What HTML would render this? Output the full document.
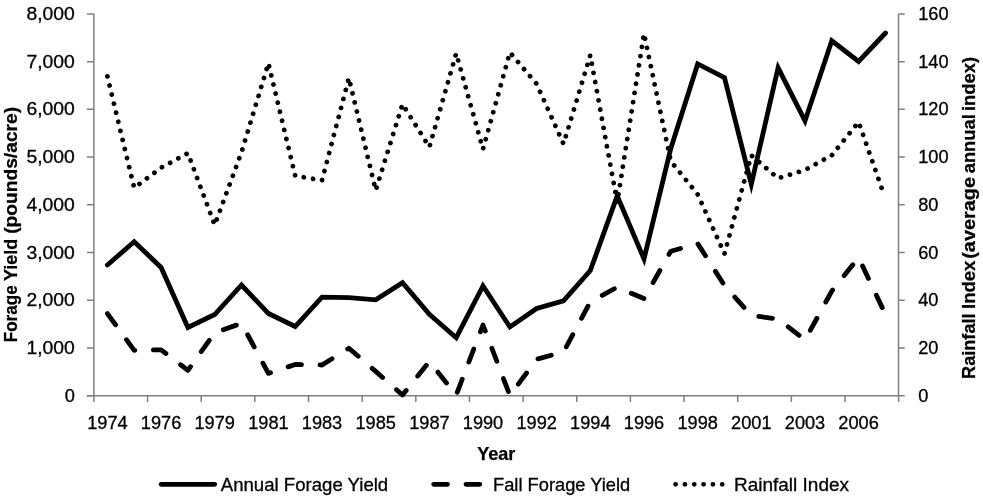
<!DOCTYPE html>
<html><head><meta charset="utf-8"><title>Forage Yield and Rainfall Index</title>
<style>
html,body{margin:0;padding:0;background:#fff}
svg{display:block;filter:blur(0.45px)}
text{font-family:"Liberation Sans",sans-serif;fill:#000}
.ax{stroke:#7f7f7f;stroke-width:1.5;fill:none}
.s{stroke:#000;stroke-width:4.8;fill:none;stroke-linecap:round;stroke-linejoin:miter;stroke-miterlimit:12}
.r{stroke-linejoin:round}
.lab{font-size:18.2px;stroke:#000;stroke-width:.3px}
.b{font-size:18.2px;font-weight:bold;stroke:#000;stroke-width:.25px}
</style></head><body>
<svg width="983" height="497" viewBox="0 0 983 497">
<rect width="983" height="497" fill="#fff"/>
<g class="ax">
<path d="M93.90 13.90V402.05"/>
<path d="M86.90 395.75H898.50"/>
<path d="M898.50 13.90V395.75"/>
<path d="M86.90 13.90H93.90M898.50 13.90H904.80M86.90 61.63H93.90M898.50 61.63H904.80M86.90 109.36H93.90M898.50 109.36H904.80M86.90 157.09H93.90M898.50 157.09H904.80M86.90 204.83H93.90M898.50 204.83H904.80M86.90 252.56H93.90M898.50 252.56H904.80M86.90 300.29H93.90M898.50 300.29H904.80M86.90 348.02H93.90M898.50 348.02H904.80M86.90 395.75H93.90M898.50 395.75H904.80M147.55 395.75V402.05M201.20 395.75V402.05M254.85 395.75V402.05M308.50 395.75V402.05M362.15 395.75V402.05M415.80 395.75V402.05M469.45 395.75V402.05M523.10 395.75V402.05M576.75 395.75V402.05M630.40 395.75V402.05M684.05 395.75V402.05M737.70 395.75V402.05M791.35 395.75V402.05M845.00 395.75V402.05M898.65 395.75V402.05"/>
</g>
<text class="lab" x="74.8" y="19.9" text-anchor="end" textLength="48.4" lengthAdjust="spacingAndGlyphs">8,000</text>
<text class="lab" x="74.8" y="67.6" text-anchor="end" textLength="48.4" lengthAdjust="spacingAndGlyphs">7,000</text>
<text class="lab" x="74.8" y="115.4" text-anchor="end" textLength="48.4" lengthAdjust="spacingAndGlyphs">6,000</text>
<text class="lab" x="74.8" y="163.1" text-anchor="end" textLength="48.4" lengthAdjust="spacingAndGlyphs">5,000</text>
<text class="lab" x="74.8" y="210.8" text-anchor="end" textLength="48.4" lengthAdjust="spacingAndGlyphs">4,000</text>
<text class="lab" x="74.8" y="258.6" text-anchor="end" textLength="48.4" lengthAdjust="spacingAndGlyphs">3,000</text>
<text class="lab" x="74.8" y="306.3" text-anchor="end" textLength="48.4" lengthAdjust="spacingAndGlyphs">2,000</text>
<text class="lab" x="74.8" y="354.0" text-anchor="end" textLength="48.4" lengthAdjust="spacingAndGlyphs">1,000</text>
<text class="lab" x="74.8" y="401.8" text-anchor="end">0</text>
<text class="lab" x="918.2" y="19.9">160</text>
<text class="lab" x="918.2" y="67.6">140</text>
<text class="lab" x="918.2" y="115.4">120</text>
<text class="lab" x="918.2" y="163.1">100</text>
<text class="lab" x="918.2" y="210.8">80</text>
<text class="lab" x="918.2" y="258.6">60</text>
<text class="lab" x="918.2" y="306.3">40</text>
<text class="lab" x="918.2" y="354.0">20</text>
<text class="lab" x="918.2" y="401.8">0</text>
<text class="lab" x="107.4" y="429.1" text-anchor="middle">1974</text>
<text class="lab" x="161.1" y="429.1" text-anchor="middle">1976</text>
<text class="lab" x="214.7" y="429.1" text-anchor="middle">1979</text>
<text class="lab" x="268.4" y="429.1" text-anchor="middle">1981</text>
<text class="lab" x="322.0" y="429.1" text-anchor="middle">1983</text>
<text class="lab" x="375.7" y="429.1" text-anchor="middle">1985</text>
<text class="lab" x="429.4" y="429.1" text-anchor="middle">1987</text>
<text class="lab" x="483.0" y="429.1" text-anchor="middle">1990</text>
<text class="lab" x="536.7" y="429.1" text-anchor="middle">1992</text>
<text class="lab" x="590.3" y="429.1" text-anchor="middle">1994</text>
<text class="lab" x="644.0" y="429.1" text-anchor="middle">1996</text>
<text class="lab" x="697.7" y="429.1" text-anchor="middle">1998</text>
<text class="lab" x="751.3" y="429.1" text-anchor="middle">2001</text>
<text class="lab" x="805.0" y="429.1" text-anchor="middle">2003</text>
<text class="lab" x="858.6" y="429.1" text-anchor="middle">2006</text>
<text class="b" x="496.3" y="459.9" text-anchor="middle" textLength="38.2" lengthAdjust="spacingAndGlyphs">Year</text>
<g transform="translate(16.6 341.6) rotate(-90)">
<text class="b" x="-0.7" y="0" textLength="57.0" lengthAdjust="spacingAndGlyphs">Forage</text>
<text class="b" x="60.5" y="0" textLength="42.2" lengthAdjust="spacingAndGlyphs">Yield</text>
<text class="b" x="107.8" y="0" textLength="126.9" lengthAdjust="spacingAndGlyphs">(pounds/acre)</text>
</g>
<g transform="translate(975.3 378.3) rotate(-90)">
<text class="b" x="-0.7" y="0" textLength="65.6" lengthAdjust="spacingAndGlyphs">Rainfall</text>
<text class="b" x="69.3" y="0" textLength="48.4" lengthAdjust="spacingAndGlyphs">Index</text>
<text class="b" x="119.5" y="0" textLength="81.9" lengthAdjust="spacingAndGlyphs">(average</text>
<text class="b" x="205.0" y="0" textLength="59.1" lengthAdjust="spacingAndGlyphs">annual</text>
<text class="b" x="267.2" y="0" textLength="54.3" lengthAdjust="spacingAndGlyphs">index)</text>
</g>
<polyline class="s" points="107.4,265.0 134.2,241.7 161.1,267.4 187.9,327.5 214.7,314.5 241.5,285.0 268.4,313.5 295.2,326.5 322.0,297.2 348.9,297.6 375.7,299.8 402.5,282.7 429.4,314.2 456.2,337.7 483.0,285.9 509.9,327.0 536.7,308.5 563.5,300.8 590.3,270.6 617.2,195.9 644.0,258.9 670.8,148.5 697.7,63.9 724.5,77.6 751.3,184.3 778.1,67.8 805.0,120.9 831.8,40.8 858.6,61.5 885.5,33.0"/>
<polyline class="s r" stroke-dasharray="13.8 18.5" points="107.4,313.6 134.2,350.3 161.1,349.8 187.9,370.4 214.7,332.7 241.5,323.3 268.4,373.4 295.2,364.5 322.0,365.0 348.9,348.2 375.7,371.4 402.5,395.0 429.4,361.5 456.2,395.0 483.0,325.0 509.9,395.5 536.7,359.2 563.5,352.0 590.3,301.8 617.2,287.2 644.0,298.6 670.8,251.2 697.7,243.6 724.5,285.5 751.3,315.5 778.1,319.0 805.0,340.0 831.8,291.1 858.6,257.6 885.5,314.5"/>
<polyline class="s" stroke-dasharray="0.01 9.32" points="107.4,76.4 134.2,187.9 161.1,167.7 187.9,153.2 214.7,225.0 241.5,152.3 268.4,63.2 295.2,175.8 322.0,180.3 348.9,78.0 375.7,190.3 402.5,104.2 429.4,147.1 456.2,53.4 483.0,149.2 509.9,52.4 536.7,84.0 563.5,144.0 590.3,55.2 617.2,202.4 644.0,33.6 670.8,161.3 697.7,194.3 724.5,253.7 751.3,155.4 778.1,178.3 805.0,170.0 831.8,155.3 858.6,122.0 883.2,192.4"/>
<path class="s" d="M161.2 484.3H214.7"/>
<path class="s" stroke-dasharray="13.8 18.5" d="M433.7 484.3H487"/>
<path class="s" stroke-dasharray="0.01 9.32" d="M675.6 484.3H727"/>
<text class="lab" x="220.8" y="490.8" textLength="167.4" lengthAdjust="spacingAndGlyphs">Annual Forage Yield</text>
<text class="lab" x="493.0" y="490.8" textLength="137.2" lengthAdjust="spacingAndGlyphs">Fall Forage Yield</text>
<text class="lab" x="734.0" y="490.8" textLength="115" lengthAdjust="spacingAndGlyphs">Rainfall Index</text>
</svg></body></html>
